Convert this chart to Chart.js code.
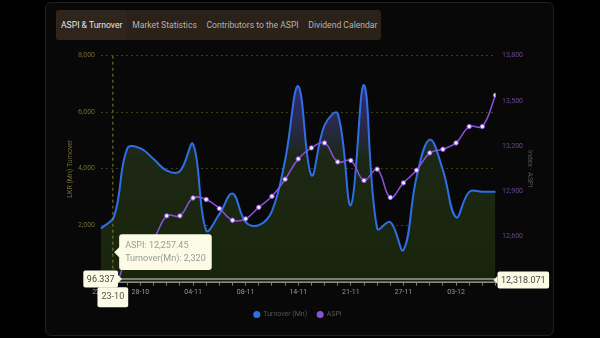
<!DOCTYPE html>
<html>
<head>
<meta charset="utf-8">
<script src="https://cdn.jsdelivr.net/npm/chart.js@4.4.1/dist/chart.umd.min.js"></script>
<style>
  html, body { margin: 0; padding: 0; background: #000; width: 600px; height: 338px; overflow: hidden; font-family: Roboto, "Noto Sans", sans-serif; }
  .card { position: absolute; left: 45px; top: 2px; width: 507px; height: 332px; background: #080808; border: 1px solid #1f1f1f; border-radius: 6px; }
  .tabs { position: absolute; left: 56px; top: 10px; width: 325px; height: 30px; background: #2a2119; border-radius: 3px; display: flex; align-items: center; }
  .tab { font-size: 8.6px; color: #b3b3b3; padding: 0 4.8px; white-space: nowrap; line-height: 30px; }
  .tab.active { color: #e8e8e8; background: #2f251c; border-radius: 3px; padding: 0 5px; }
  #chartWrap { position: absolute; left: 0; top: 0; width: 600px; height: 338px; }
</style>
</head>
<body>
<div class="card"></div>
<div class="tabs">
  <div class="tab active">ASPI &amp; Turnover</div>
  <div class="tab">Market Statistics</div>
  <div class="tab">Contributors to the ASPI</div>
  <div class="tab">Dividend Calendar</div>
</div>
<div id="chartWrap"><canvas id="aspiCanvas" width="600" height="338"></canvas></div>
<script>
// ==========================================
// ข้อมูล ASPI & Turnover (วันทำการ)
// ==========================================
const dateLabels = ['22-10', '23-10', '24-10', '28-10', '29-10', '30-10', '01-11', '04-11', '05-11', '06-11', '07-11', '08-11', '11-11', '12-11', '13-11', '14-11', '18-11', '19-11', '20-11', '21-11', '22-11', '25-11', '26-11', '27-11', '28-11', '29-11', '02-12', '03-12', '04-12', '05-12', '06-12'];
const turnoverMn = [1880, 2320, 4720, 4720, 4340, 3930, 3910, 4870, 1820, 2390, 3120, 2110, 2000, 2500, 4300, 6920, 3770, 5540, 5950, 2710, 6960, 1880, 2110, 1120, 3710, 5030, 3950, 2280, 3180, 3180, 3180];
const aspiIndex = [12240, 12257.45, 12470, 12540, 12590, 12737, 12737, 12856, 12846, 12786, 12708, 12717, 12794, 12867, 12980, 13115, 13188, 13221, 13095, 13104, 12972, 13047, 12859, 12956, 13040, 13155, 13179, 13221, 13330, 13330, 13538];
const turnoverTicks = [0, 2000, 4000, 6000, 8000];
const aspiTicks = [12300, 12600, 12900, 13200, 13500, 13800];

// ค่าที่ crosshair ชี้อยู่ (ตำแหน่งเมาส์)
const crossIndex = 0.9;
const crossTurnover = 96.337;
const crossAspi = 12318.071;
const crossDate = '23-10';

const blue = '#2f6fe6';
const purple = '#8a52dc';

Chart.defaults.font.family = 'Roboto, "Noto Sans", sans-serif';

// ไล่สีพื้นที่ใต้กราฟ turnover
function turnoverFill(ctx) {
  const { chart } = ctx; const a = chart.chartArea;
  if (!a) return 'rgba(24,36,10,1)';
  const g = chart.ctx.createLinearGradient(0, a.top, 0, a.bottom);
  g.addColorStop(0, 'rgba(78,58,175,0.85)');
  g.addColorStop(0.22, 'rgba(55,50,120,0.8)');
  g.addColorStop(0.45, 'rgba(28,40,20,1)');
  g.addColorStop(1, 'rgba(24,36,10,1)');
  return g;
}

function drawTag(ctx, text, x, y, align, caret) {
  ctx.font = '9px Roboto, "Noto Sans", sans-serif';
  const w = ctx.measureText(text).width + 7; const h = 17;
  let left = align === 'center' ? x - w / 2 : align === 'right' ? x - w : x;
  ctx.fillStyle = '#fbfbe6';
  ctx.beginPath(); ctx.roundRect(left, y - h / 2, w, h, 2); ctx.fill();
  if (caret === 'right') { ctx.beginPath(); ctx.moveTo(left + w, y - 4); ctx.lineTo(left + w + 4, y); ctx.lineTo(left + w, y + 4); ctx.fill(); }
  if (caret === 'left') { ctx.beginPath(); ctx.moveTo(left, y - 4); ctx.lineTo(left - 4, y); ctx.lineTo(left, y + 4); ctx.fill(); }
  ctx.fillStyle = '#444'; ctx.textAlign = 'center'; ctx.textBaseline = 'middle';
  ctx.fillText(text, left + w / 2, y + 0.5);
}

// เส้น crosshair + ป้ายค่าที่แกน
const crosshairPlugin = {
  id: 'crosshair',
  afterDatasetsDraw(chart) {
    const { ctx, chartArea: a, scales } = chart;
    const x = scales.x.getPixelForValue(crossIndex); const y = scales.y.getPixelForValue(crossTurnover);
    ctx.save();
    ctx.setLineDash([3, 3]); ctx.strokeStyle = 'rgba(160,160,70,0.75)'; ctx.lineWidth = 1;
    ctx.beginPath(); ctx.moveTo(x, a.top); ctx.lineTo(x, a.bottom); ctx.stroke();
    ctx.setLineDash([]); ctx.strokeStyle = '#9c9c9c'; ctx.lineWidth = 1.5;
    ctx.beginPath(); ctx.moveTo(a.left, y); ctx.lineTo(a.right, y); ctx.stroke();
    ctx.restore();
  },
  afterDraw(chart) {
    const { ctx, chartArea: a, scales } = chart;
    const x = scales.x.getPixelForValue(crossIndex); const y = scales.y.getPixelForValue(crossTurnover);
    ctx.save();
    drawTag(ctx, crossTurnover.toLocaleString('en-US', { minimumFractionDigits: 3 }), a.left + 17, y, 'right', 'right');
    drawTag(ctx, crossAspi.toLocaleString('en-US', { minimumFractionDigits: 3 }), a.right + 2, y + 1, 'left', 'left');
    ctx.font = '9px Roboto'; const h = 20;
    const w = ctx.measureText(crossDate).width + 8;
    ctx.fillStyle = '#fbfbe6'; ctx.beginPath(); ctx.roundRect(x - w / 2, a.bottom + 5.5, w, h, 2); ctx.fill();
    ctx.fillStyle = '#555'; ctx.textAlign = 'center'; ctx.textBaseline = 'middle';
    ctx.fillText(crossDate, x, a.bottom + 5.5 + h / 2);
    ctx.restore();
  }
};

const chart = new Chart(document.getElementById('aspiCanvas').getContext('2d'), {
  type: 'line',
  data: {
    labels: dateLabels,
    datasets: [
      { label: 'Turnover (Mn)', data: turnoverMn, yAxisID: 'y', borderColor: blue, borderWidth: 2, backgroundColor: turnoverFill, fill: 'origin', tension: 0.4, pointRadius: 0, order: 2 },
      { label: 'ASPI', data: aspiIndex, yAxisID: 'y1', borderColor: purple, borderWidth: 1.5, backgroundColor: '#f2ecff', pointBackgroundColor: '#f2ecff', pointBorderColor: purple, pointBorderWidth: 1, pointRadius: 2.2, fill: false, tension: 0.4, clip: 0, order: 1 }
    ]
  },
  options: {
    responsive: false, animation: false, events: [],
    layout: { padding: { left: 60, right: 64.5, top: 55.7, bottom: 10 } },
    interaction: { mode: 'index', intersect: false },
    scales: {
      x: {
        grid: { drawOnChartArea: false, drawTicks: true, tickLength: 4, color: '#7a7a7a' },
        border: { display: true, color: '#8c8c8c', width: 2 },
        ticks: { autoSkip: false, maxRotation: 0, color: '#9a9a9a', font: { size: 7 }, padding: 2, callback: (v, i) => (i === 0 || i % 4 === 3) ? dateLabels[i] : '' },
        afterFit: s => { s.height = 19.3; }
      },
      y: {
        position: 'left', min: turnoverTicks[0], max: turnoverTicks[turnoverTicks.length - 1],
        afterBuildTicks: s => { s.ticks = turnoverTicks.map(v => ({ value: v })); },
        ticks: { color: 'rgba(130,125,65,0.85)', font: { size: 7 }, padding: 6, callback: v => v.toLocaleString('en-US') },
        grid: { color: 'rgba(110,110,35,0.55)', drawTicks: false },
        border: { display: false, dash: [2, 3] },
        title: { display: true, text: 'LKR (Mn) Turnover', color: 'rgba(130,125,65,0.85)', font: { size: 7 }, padding: 6 },
        afterFit: s => { s.width = 41; }
      },
      y1: {
        position: 'right', min: aspiTicks[0], max: aspiTicks[aspiTicks.length - 1],
        afterBuildTicks: s => { s.ticks = aspiTicks.map(v => ({ value: v })); },
        ticks: { color: 'rgba(115,80,155,0.9)', font: { size: 7 }, padding: 6.5, callback: v => v.toLocaleString('en-US') },
        grid: { drawOnChartArea: false, drawTicks: false },
        border: { display: false },
        title: { display: true, text: 'Index - ASPI', color: '#555', font: { size: 7 }, padding: 2 },
        afterFit: s => { s.width = 40; }
      }
    },
    plugins: {
      legend: {
        position: 'bottom',
        labels: {
          usePointStyle: true, pointStyle: 'circle', boxWidth: 6, boxHeight: 5, padding: 10, color: '#555', font: { size: 7 },
          sort: (a, b) => a.datasetIndex - b.datasetIndex,
          generateLabels: c => Chart.defaults.plugins.legend.labels.generateLabels(c).map(l => ({ ...l, fillStyle: [blue, purple][l.datasetIndex], strokeStyle: [blue, purple][l.datasetIndex], lineWidth: 0 }))
        }
      },
      tooltip: {
        backgroundColor: '#fbfbe6', bodyColor: '#9a9a9a', bodyFont: { size: 9 }, displayColors: false, padding: 6, cornerRadius: 3,
        caretSize: 5, caretPadding: 0, bodySpacing: 2, borderWidth: 0,
        itemSort: (a, b) => b.datasetIndex - a.datasetIndex,
        callbacks: {
          title: () => '',
          label: ctx => ctx.datasetIndex === 1
            ? 'ASPI: ' + ctx.raw.toLocaleString('en-US', { minimumFractionDigits: 2, maximumFractionDigits: 2 })
            : 'Turnover(Mn): ' + ctx.raw.toLocaleString('en-US')
        }
      }
    }
  },
  plugins: [crosshairPlugin]
});

// เปิด tooltip ค้างไว้ที่วัน 23-10
chart.tooltip.setActiveElements([{ datasetIndex: 0, index: 1 }, { datasetIndex: 1, index: 1 }], { x: 113, y: 250 });
chart.update();
</script>
</body>
</html>
